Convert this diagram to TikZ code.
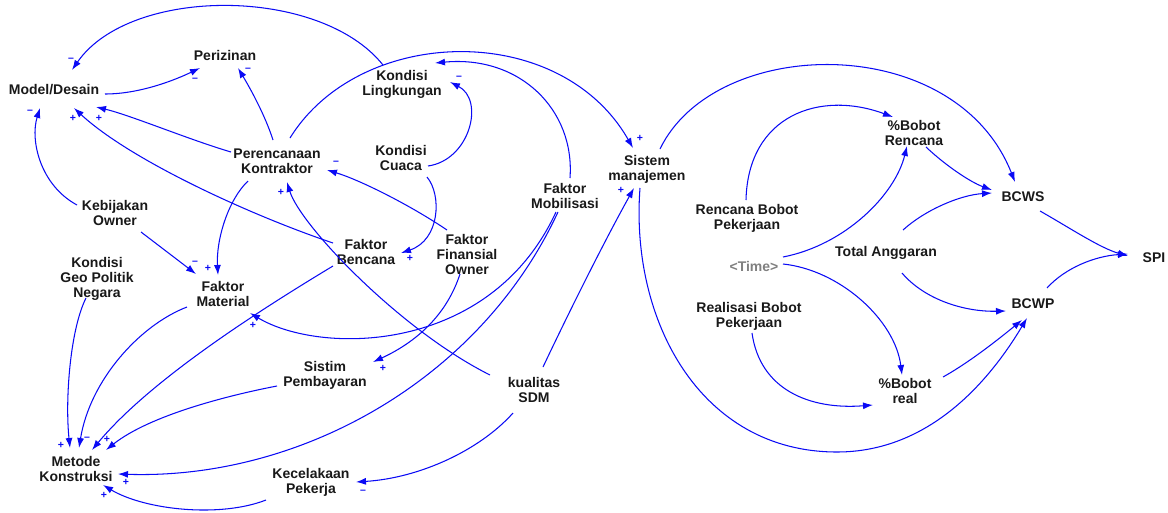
\documentclass[tikz,border=0pt]{standalone}
\usepackage{fontspec}
\setmainfont{Liberation Sans}
\usetikzlibrary{arrows.meta}
\definecolor{linkblue}{RGB}{10,10,245}
\definecolor{labelink}{RGB}{25,25,25}
\definecolor{shadowvar}{RGB}{128,128,128}
\tikzset{
  var/.style={font=\bfseries\fontsize{14}{15}\selectfont, text=labelink, align=center, inner sep=0pt},
  shadowed/.style={var, text=shadowvar},
  link/.style={draw=linkblue, line width=1.05pt, -{Latex[length=10pt,width=7pt]}},
  pol/.style={font=\bfseries\fontsize{10.5}{10.5}\selectfont, text=linkblue, inner sep=0pt},
}
\begin{document}
\begin{tikzpicture}[x=1pt,y=-1pt]
\useasboundingbox[fill=white] (0,0) rectangle (1168,512);

% ---- variables ----
\node[var] (md)   at (54,90)   {Model/Desain};
\node[var] (per)  at (225,55)  {Perizinan};
\node[var] (kl)   at (402,84)  {Kondisi\\Lingkungan};
\node[var] (pk)   at (277,161) {Perencanaan\\Kontraktor};
\node[var] (kc)   at (401,158) {Kondisi\\Cuaca};
\node[var] (ko)   at (115,213) {Kebijakan\\Owner};
\node[var] (fb)   at (366,252) {Faktor\\Bencana};
\node[var] (ffo)  at (467,254) {Faktor\\Finansial\\Owner};
\node[var] (fmob) at (565,196) {Faktor\\Mobilisasi};
\node[var] (sm)   at (647,169) {Sistem\\manajemen};
\node[var] (gp)   at (97,279)  {Kondisi\\Geo Politik\\Negara};
\node[var] (fmat) at (223,294) {Faktor\\Material};
\node[var] (sp)   at (325,375) {Sistim\\Pembayaran};
\node[var] (sdm)  at (534,390) {kualitas\\SDM};
\node[var] (mk)   at (76,469)  {Metode\\Konstruksi};
\node[var] (kp)   at (311,482) {Kecelakaan\\Pekerja};
\node[var] (rbp)  at (747,218) {Rencana Bobot\\Pekerjaan};
\node[var] (pbr)  at (914,133) {\%Bobot\\Rencana};
\node[var] (bcws) at (1023,197) {BCWS};
\node[var] (ta)   at (886,253) {Total Anggaran};
\node[shadowed] (time) at (754,266) {<Time>};
\node[var] (spi)  at (1154,258) {SPI};
\node[var] (rbr)  at (749,316) {Realisasi Bobot\\Pekerjaan};
\node[var] (bcwp) at (1033,304) {BCWP};
\node[var] (pbre) at (905,391) {\%Bobot\\real};

% ---- causal links, left part ----
\draw[link] ([shift={(-19,-19)}]kl.center) .. controls (320,-14) and (130,-14) .. ([shift={(18,-20)}]md.center);
\draw[link] ([shift={(51,4)}]md.center) .. controls (140,94) and (175,80) .. ([shift={(-25,13)}]per.center);
\draw[link] ([shift={(-4,-21)}]pk.center) .. controls (265,115) and (250,88) .. ([shift={(13,13)}]per.center);
\draw[link] ([shift={(-46,-9)}]pk.center) .. controls (190,140) and (130,115) .. ([shift={(42,17)}]md.center);
\draw[link] ([shift={(-33,-9)}]fb.center) .. controls (250,215) and (130,160) .. ([shift={(20,18)}]md.center);
\draw[link] ([shift={(-38,-8)}]ko.center) .. controls (40,185) and (30,140) .. ([shift={(-14,18)}]md.center);
\draw[link] ([shift={(26,19)}]ko.center) -- ([shift={(-27,-20)}]fmat.center);
\draw[link] ([shift={(-29,20)}]pk.center) .. controls (228,200) and (216,240) .. ([shift={(-5,-19)}]fmat.center);
\draw[link] ([shift={(13,-23)}]pk.center) .. controls (360,25) and (560,20) .. ([shift={(-14,-21)}]sm.center);
\draw[link] ([shift={(5,-18)}]fmob.center) .. controls (575,110) and (520,55) .. ([shift={(33,-21)}]kl.center);
\draw[link] ([shift={(27,8)}]kc.center) .. controls (470,160) and (485,100) .. ([shift={(48,-2)}]kl.center);
\draw[link] ([shift={(26,19)}]kc.center) .. controls (442,195) and (440,240) .. ([shift={(35,1)}]fb.center);
\draw[link] ([shift={(-20,-24)}]ffo.center) .. controls (410,205) and (360,180) .. ([shift={(50,9)}]pk.center);
\draw[link] ([shift={(-44,-15)}]sdm.center) .. controls (400,330) and (300,225) .. ([shift={(10,21)}]pk.center);
\draw[link] ([shift={(-33,14)}]fb.center) .. controls (260,310) and (150,380) .. ([shift={(16,-19)}]mk.center);
\draw[link] ([shift={(-36,13)}]fmat.center) .. controls (140,325) and (90,380) .. ([shift={(3,-21)}]mk.center);
\draw[link] ([shift={(-11,19)}]gp.center) .. controls (70,330) and (65,400) .. ([shift={(-6,-21)}]mk.center);
\draw[link] ([shift={(-48,11)}]sp.center) .. controls (230,395) and (150,415) .. ([shift={(30,-19)}]mk.center);
\draw[link] ([shift={(-7,16)}]fmob.center) .. controls (480,380) and (300,480) .. ([shift={(42,5)}]mk.center);
\draw[link] ([shift={(-45,18)}]kp.center) .. controls (220,518) and (145,510) .. ([shift={(27,16)}]mk.center);
\draw[link] ([shift={(-21,23)}]sdm.center) .. controls (480,450) and (420,478) .. ([shift={(45,0)}]kp.center);
\draw[link] ([shift={(-9,16)}]fmob.center) .. controls (490,355) and (320,355) .. ([shift={(27,19)}]fmat.center);
\draw[link] ([shift={(-7,20)}]ffo.center) .. controls (445,320) and (410,345) .. ([shift={(48,-13)}]sp.center);
\draw[link] ([shift={(9,-23)}]sdm.center) .. controls (570,310) and (605,240) .. ([shift={(-13,19)}]sm.center);

% ---- causal links, right part ----
\draw[link] ([shift={(13,-20)}]sm.center) .. controls (715,35) and (955,30) .. ([shift={(-8,-15)}]bcws.center);
\draw[link] ([shift={(-7,19)}]sm.center) .. controls (630,320) and (700,452) .. (837,452)
            .. controls (930,452) and (990,380) .. ([shift={(-6,14)}]bcwp.center);
\draw[link] ([shift={(-1,-18)}]rbp.center) .. controls (748,115) and (820,90) .. ([shift={(-21,-16)}]pbr.center);
\draw[link] ([shift={(29,-9)}]time.center) .. controls (845,245) and (895,195) .. ([shift={(-7,13)}]pbr.center);
\draw[link] ([shift={(12,14)}]pbr.center) .. controls (945,165) and (970,182) .. ([shift={(-31,-7)}]bcws.center);
\draw[link] ([shift={(17,-23)}]ta.center) .. controls (925,210) and (960,195) .. ([shift={(-31,-4)}]bcws.center);
\draw[link] ([shift={(16,20)}]ta.center) .. controls (925,300) and (965,312) .. ([shift={(-27,7)}]bcwp.center);
\draw[link] ([shift={(17,14)}]bcws.center) .. controls (1070,228) and (1100,248) .. ([shift={(-26,-2)}]spi.center);
\draw[link] ([shift={(14,-16)}]bcwp.center) .. controls (1065,268) and (1095,256) .. ([shift={(-26,-4)}]spi.center);
\draw[link] ([shift={(29,-2)}]time.center) .. controls (840,270) and (895,320) .. ([shift={(-3,-16)}]pbre.center);
\draw[link] ([shift={(3,17)}]rbr.center) .. controls (760,390) and (810,410) .. ([shift={(-32,14)}]pbre.center);
\draw[link] ([shift={(38,-14)}]pbre.center) .. controls (970,362) and (1000,338) .. ([shift={(-11,16)}]bcwp.center);

% ---- link polarities ----
\node[pol] (p1)  at (71,60)   {–};
\node[pol] (p2)  at (195,80)  {–};
\node[pol] (p3)  at (248,70)  {–};
\node[pol] (p4)  at (99,118)  {+};
\node[pol] (p5)  at (73,118)  {+};
\node[pol] (p6)  at (30,112)  {–};
\node[pol] (p7)  at (195,263) {–};
\node[pol] (p8)  at (208,268) {+};
\node[pol] (p9)  at (640,138) {+};
\node[pol] (p10) at (459,78)  {–};
\node[pol] (p11) at (410,258) {+};
\node[pol] (p12) at (336,163) {–};
\node[pol] (p13) at (281,192) {+};
\node[pol] (p14) at (61,445)  {+};
\node[pol] (p15) at (87,439)  {–};
\node[pol] (p16) at (107,439) {+};
\node[pol] (p17) at (126,482) {+};
\node[pol] (p18) at (104,495) {+};
\node[pol] (p19) at (363,492) {–};
\node[pol] (p20) at (253,325) {+};
\node[pol] (p21) at (383,368) {+};
\node[pol] (p22) at (621,190) {+};
\end{tikzpicture}
\end{document}
